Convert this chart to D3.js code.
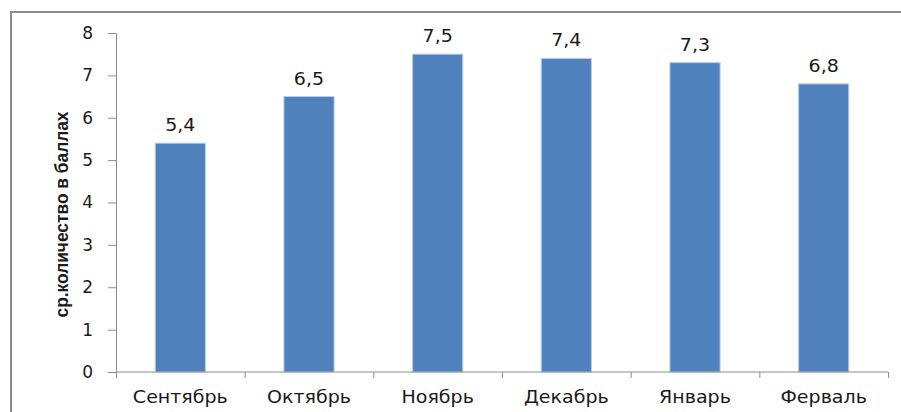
<!DOCTYPE html>
<html lang="ru">
<head>
<meta charset="UTF-8">
<title>ср.количество в баллах</title>
<script src="https://d3js.org/d3.v7.min.js"></script>
<style>
  body { margin: 0; background: #fff; }
  svg text { fill: #1a1a1a; }
</style>
</head>
<body>
<script>
const months = ["Сентябрь", "Октябрь", "Ноябрь", "Декабрь", "Январь", "Ферваль"];
const scores = [5.4, 6.5, 7.5, 7.4, 7.3, 6.8];
const yTicks = [0, 1, 2, 3, 4, 5, 6, 7, 8];
const yTitle = "ср.количество в баллах";

const width = 901, height = 412;
const margin = { top: 33, right: 13, bottom: 40, left: 116 };
const labelFont = "17px 'DejaVu Sans', sans-serif";
const stretch = 1.12; // the original text is a bit wider than DejaVu

const svg = d3.select("body").append("svg")
    .attr("width", width)
    .attr("height", height);

// outer frame (cut off on the right and bottom)
svg.append("path")
    .attr("d", `M11,${height + 2} V12 H${width + 2}`)
    .attr("fill", "none")
    .attr("stroke", "#8c8c8c")
    .attr("stroke-width", 2);

const x = d3.scaleBand()
    .domain(months)
    .range([margin.left, width - margin.right])
    .paddingInner(0.61)
    .paddingOuter(0.305);

const y = d3.scaleLinear()
    .domain([0, 8])
    .range([height - margin.bottom, margin.top]);

// bars
svg.selectAll(".bar")
    .data(scores)
    .enter().append("rect")
    .attr("class", "bar")
    .attr("x", (d, i) => x(months[i]))
    .attr("y", d => y(d))
    .attr("width", x.bandwidth())
    .attr("height", d => y(0) - y(d))
    .attr("fill", "#4f81bd")
    .attr("stroke", "#b9cde5")
    .attr("stroke-width", 1);

// value labels
svg.selectAll(".val")
    .data(scores)
    .enter().append("text")
    .attr("class", "val")
    .attr("transform", (d, i) => `translate(${x(months[i]) + x.bandwidth() / 2},${y(d) - 12}) scale(${stretch},1)`)
    .attr("text-anchor", "middle")
    .style("font", labelFont)
    .text(d => String(d).replace(".", ","));

// y axis
const yAxis = svg.append("g")
    .attr("transform", `translate(${margin.left},0)`)
    .call(d3.axisLeft(y).tickValues(yTicks).tickSize(8).tickPadding(15).tickSizeOuter(0));
yAxis.selectAll("text").style("font", labelFont).attr("fill", "#1a1a1a");
yAxis.select(".domain").attr("stroke", "#8c8c8c");
yAxis.selectAll(".tick line").attr("stroke", "#8c8c8c");

// x axis: ticks at band boundaries
const xAxis = svg.append("g")
    .attr("transform", `translate(0,${y(0)})`);
xAxis.append("line")
    .attr("x1", x.range()[0]).attr("x2", x.range()[1])
    .attr("stroke", "#8c8c8c");
const step = x.step();
xAxis.selectAll(".xt")
    .data(d3.range(months.length + 1))
    .enter().append("line")
    .attr("x1", i => x.range()[0] + i * step + 0.5)
    .attr("x2", i => x.range()[0] + i * step + 0.5)
    .attr("y1", 0).attr("y2", 6)
    .attr("stroke", "#8c8c8c");
xAxis.selectAll(".xl")
    .data(months)
    .enter().append("text")
    .attr("transform", d => `translate(${x(d) + x.bandwidth() / 2},31) scale(${stretch},1)`)
    .attr("text-anchor", "middle")
    .style("font", labelFont)
    .text(d => d);

// y title
svg.append("text")
    .attr("transform", `translate(68,${(y(0) + y(8)) / 2 + 12}) rotate(-90)`)
    .attr("text-anchor", "middle")
    .attr("textLength", 206)
    .attr("lengthAdjust", "spacingAndGlyphs")
    .style("font", "bold 19px 'Liberation Sans Narrow', 'Liberation Sans', sans-serif")
    .text(yTitle);
</script>
</body>
</html>
